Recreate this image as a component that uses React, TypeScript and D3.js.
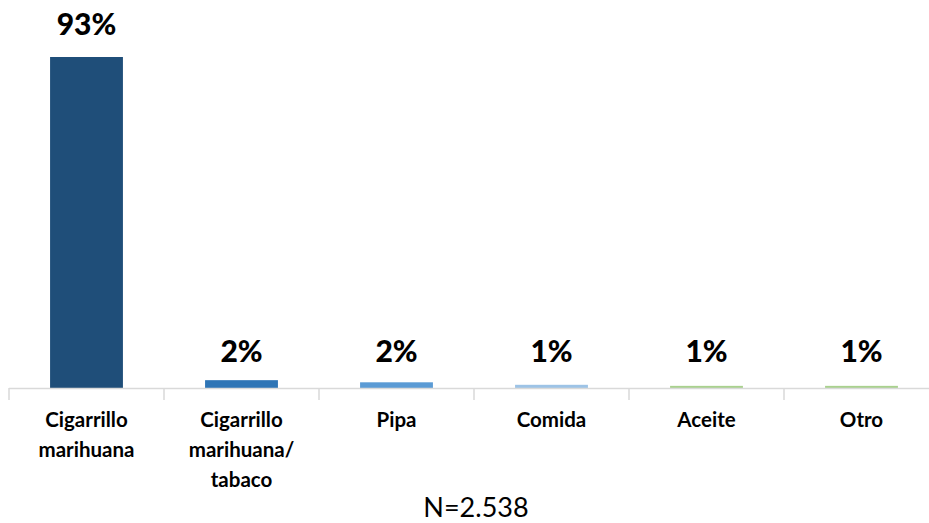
import React from "react";
import * as d3 from "d3";

const categories: string[][] = [
  ["Cigarrillo", "marihuana"],
  ["Cigarrillo", "marihuana/", "tabaco"],
  ["Pipa"],
  ["Comida"],
  ["Aceite"],
  ["Otro"],
];
const values = [93, 2.2, 1.6, 0.9, 0.6, 0.6];
const valueLabels = ["93%", "2%", "2%", "1%", "1%", "1%"];
const colors = ["#1F4E79", "#2E75B6", "#5B9BD5", "#9DC3E6", "#A9D18E", "#A9D18E"];
const note = "N=2.538";

export default function App() {
  const W = 929, H = 523;
  const left = 9, right = 939, base = 388;
  const x = d3.scaleBand<number>().domain(d3.range(categories.length)).range([left, right]).paddingInner(0.53).paddingOuter(0.265);
  const y = d3.scaleLinear().domain([0, 93]).range([base, 57]);
  const step = x.step();
  const font = "Lato, 'Open Sans', sans-serif";
  return (
    <svg width={W} height={H} style={{ position: "absolute", left: 0, top: 0, background: "#fff" }}>
      {values.map((v, i) => (
        <rect key={i} x={x(i)} y={y(v)} width={x.bandwidth()} height={base - y(v)} fill={colors[i]} />
      ))}
      {values.map((v, i) => (
        <text key={"l" + i} x={(x(i) as number) + x.bandwidth() / 2} y={i === 0 ? 35 : 362} textAnchor="middle"
          fontFamily={font} fontWeight={900} fontSize={30} fill="#000">{valueLabels[i]}</text>
      ))}
      <line x1={left} x2={right} y1={base + 0.5} y2={base + 0.5} stroke="#D9D9D9" strokeWidth={1.5} />
      {d3.range(categories.length + 1).map((i) => (
        <line key={"t" + i} x1={left + i * step} x2={left + i * step} y1={base} y2={400} stroke="#D9D9D9" strokeWidth={1.5} />
      ))}
      {categories.map((lines, i) => (
        <text key={"c" + i} textAnchor="middle" fontFamily={font} fontWeight="bold" fontSize={20.5} fill="#000">
          {lines.map((t, j) => (
            <tspan key={j} x={(x(i) as number) + x.bandwidth() / 2} y={427 + j * 30}>{t}</tspan>
          ))}
        </text>
      ))}
      <text x={476} y={517} textAnchor="middle" fontFamily={font} fontSize={27} fill="#000">{note}</text>
    </svg>
  );
}
